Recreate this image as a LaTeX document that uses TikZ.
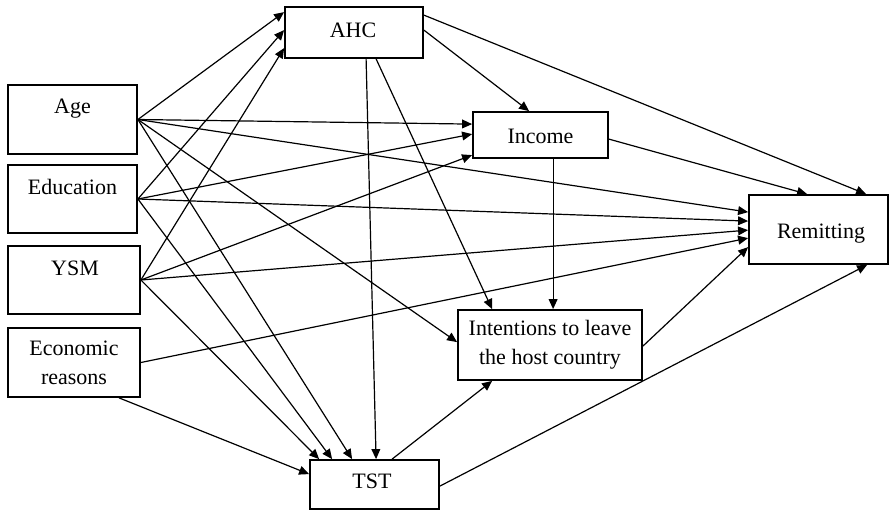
\documentclass[tikz,border=0pt]{standalone}
\usepackage{fontspec}
\setmainfont{Liberation Serif}
\usetikzlibrary{arrows.meta,calc}
\begin{document}
\begin{tikzpicture}[x=0.5pt,y=-0.5pt,
  box/.style={draw,line width=0.9pt,inner sep=0pt,align=center,font=\fontsize{11}{14.5}\selectfont},
  lbl/.style={inner sep=0pt,anchor=base,font=\fontsize{11}{14}\selectfont},
  arr/.style={line width=0.6pt,-{Triangle[length=5pt,width=4.4pt]}}]
\useasboundingbox (0,0) rectangle (891,510);
% boxes
\node[box,minimum width=69pt,minimum height=25.5pt] (ahc) at (354,32.5) {};
\node[box,minimum width=64.5pt,minimum height=34.5pt] (age) at (72.5,119.5) {};
\node[box,minimum width=64.5pt,minimum height=34pt] (edu) at (72.5,199) {};
\node[box,minimum width=66pt,minimum height=34pt] (ysm) at (74,280) {};
\node[box,minimum width=66pt,minimum height=34.5pt] (econ) at (74,362.5) {Economic\\reasons};
\node[box,minimum width=64.5pt,minimum height=24.5pt] (tst) at (374.5,484.5) {};
\node[box,minimum width=67.5pt,minimum height=23pt] (inc) at (540.5,135) {};
\node[box,minimum width=69.5pt,minimum height=34.5pt] (rem) at (818.5,229.5) {};
\node[box,minimum width=92pt,minimum height=35pt] (int) at (550,345) {Intentions to leave\\the host country};
% labels
\node[lbl] (ahctxt) at (353,37) {AHC};
\node[lbl] (agetxt) at (72.5,113) {Age};
\node[lbl] (edutxt) at (72.5,194) {Education};
\node[lbl] (ysmtxt) at (75,275) {YSM};
\node[lbl] (tsttxt) at (372,488) {TST};
\node[lbl] (inctxt) at (540.5,143) {Income};
\node[lbl] (remtxt) at (821,238) {Remitting};
% to AHC
\draw[arr] (age.east) -- ($(ahc.north west)+(0,6)$);
\draw[arr] (edu.east) -- ($(ahc.north west)+(0,24)$);
\draw[arr] (ysm.east) -- ($(ahc.north west)+(0,42)$);
% to Income
\draw[arr] (age.east) -- ($(inc.north west)+(0,13)$);
\draw[arr] (edu.east) -- ($(inc.north west)+(0,23)$);
\draw[arr] (ysm.east) -- ($(inc.north west)+(0,44)$);
\draw[arr] ($(ahc.north east)+(0,24)$) -- ($(inc.north west)+(57,0)$);
% to Remitting
\draw[arr] (age.east) -- ($(rem.north west)+(0,18)$);
\draw[arr] (edu.east) -- ($(rem.north west)+(0,27)$);
\draw[arr] (ysm.east) -- ($(rem.north west)+(0,36)$);
\draw[arr] (econ.east) -- ($(rem.north west)+(0,44)$);
\draw[arr] ($(int.north east)+(0,37)$) -- ($(rem.north west)+(0,53)$);
\draw[arr] ($(ahc.north east)+(0,9)$) -- ($(rem.north west)+(118,0)$);
\draw[arr] ($(inc.north east)+(0,28)$) -- ($(rem.north west)+(59,0)$);
\draw[arr] ($(tst.north east)+(0,27)$) -- ($(rem.south west)+(119,0)$);
% to Intentions
\draw[arr] (age.east) -- ($(int.north west)+(0,33)$);
\draw[arr] ($(ahc.south west)+(92,0)$) -- ($(int.north west)+(35,0)$);
\draw[arr] ($(inc.south west)+(81,0)$) -- ($(int.north west)+(96,0)$);
\draw[arr] ($(tst.north west)+(83,0)$) -- ($(int.south west)+(35,0)$);
% to TST
\draw[arr] (age.east) -- ($(tst.north west)+(43,0)$);
\draw[arr] (edu.east) -- ($(tst.north west)+(23,0)$);
\draw[arr] (ysm.east) -- ($(tst.north west)+(10,0)$);
\draw[arr] ($(econ.south west)+(112,0)$) -- ($(tst.north west)+(0,15)$);
\draw[arr] ($(ahc.south west)+(82,0)$) -- ($(tst.north west)+(67,0)$);
\end{tikzpicture}
\end{document}
